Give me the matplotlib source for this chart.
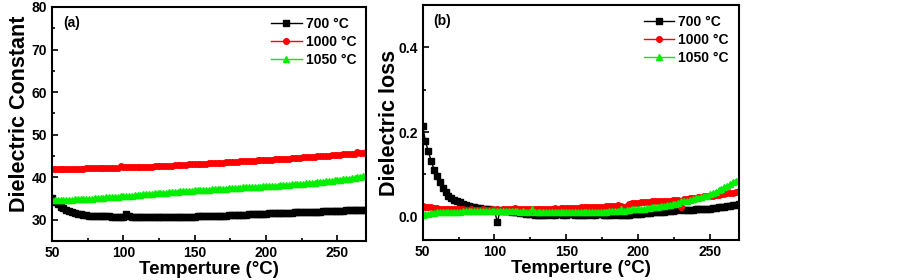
import matplotlib
matplotlib.use("Agg")
import matplotlib.pyplot as plt
import numpy as np
from matplotlib.ticker import MultipleLocator

plt.rcParams['font.family'] = ['Liberation Sans', 'DejaVu Sans']
plt.rcParams['font.weight'] = 'bold'

# temperature sweep, 50..270 C in 2 C steps
temps = np.arange(50, 271, 2)
labels = ['700 \u00b0C', '1000 \u00b0C', '1050 \u00b0C']
colors = ['black', '#ff0000', '#00ee00']
markers = ['s', 'o', '^']

# (a) dielectric constant
eps_700 = [35.2, 34.2, 33.6, 33.1, 32.7, 32.3, 32.0, 31.8, 31.6, 31.4,
           31.3, 31.2, 31.1, 31.0, 31.0, 30.9, 30.9, 30.85, 30.8, 30.8,
           30.8, 30.75, 30.75, 30.7, 30.7, 30.7, 31.3, 30.8, 30.75, 30.7,
           30.7, 30.75, 30.7, 30.7, 30.65, 30.7, 30.65, 30.7, 30.7, 30.65,
           30.7, 30.7, 30.7, 30.7, 30.75, 30.7, 30.75, 30.75, 30.75, 30.75,
           30.75, 30.8, 30.8, 30.85, 30.85, 30.85, 30.9, 30.9, 30.95, 30.95,
           31.0, 31.0, 31.05, 31.05, 31.1, 31.1, 31.15, 31.2, 31.2, 31.25,
           31.3, 31.3, 31.35, 31.4, 31.4, 31.45, 31.5, 31.5, 31.55, 31.6,
           31.6, 31.65, 31.65, 31.7, 31.7, 31.75, 31.75, 31.8, 31.8, 31.85,
           31.85, 31.9, 31.9, 31.95, 31.95, 32.0, 32.0, 32.05, 32.05, 32.1,
           32.1, 32.15, 32.15, 32.2, 32.2, 32.2, 32.25, 32.25, 32.3, 32.3,
           32.3]
eps_1000 = [42.0, 42.0, 41.95, 42.0, 42.0, 42.0, 42.0, 42.0, 42.05, 42.05,
            42.05, 42.05, 42.1, 42.1, 42.1, 42.1, 42.15, 42.15, 42.15, 42.2,
            42.2, 42.2, 42.25, 42.25, 42.55, 42.3, 42.3, 42.3, 42.35, 42.35,
            42.4, 42.4, 42.45, 42.45, 42.5, 42.5, 42.55, 42.6, 42.6, 42.65,
            42.7, 42.7, 42.75, 42.8, 42.8, 42.85, 42.9, 42.95, 43.0, 43.0,
            43.05, 43.1, 43.15, 43.2, 43.2, 43.25, 43.3, 43.35, 43.4, 43.4,
            43.45, 43.5, 43.55, 43.6, 43.6, 43.65, 43.7, 43.75, 43.8, 43.8,
            43.85, 43.9, 43.95, 44.0, 44.1, 44.1, 44.1, 44.15, 44.2, 44.25,
            44.3, 44.35, 44.35, 44.4, 44.45, 44.5, 44.55, 44.6, 44.65, 44.7,
            44.75, 44.8, 44.85, 44.9, 44.95, 45.0, 45.05, 45.1, 45.15, 45.2,
            45.25, 45.3, 45.35, 45.4, 45.45, 45.5, 45.55, 45.9, 45.7, 45.8,
            45.85]
eps_1050 = [34.6, 34.6, 34.65, 34.65, 34.7, 34.7, 34.75, 34.75, 34.8, 34.8,
            34.85, 34.9, 34.9, 34.95, 35.0, 35.05, 35.1, 35.15, 35.2, 35.25,
            35.3, 35.35, 35.4, 35.45, 35.5, 35.55, 35.6, 35.65, 35.7, 35.75,
            35.8, 35.9, 35.95, 36.0, 36.05, 36.1, 36.2, 36.25, 36.3, 36.35,
            36.4, 36.45, 36.5, 36.55, 36.6, 36.65, 36.7, 36.75, 36.8, 36.85,
            36.9, 36.95, 37.0, 37.05, 37.1, 37.1, 37.15, 37.2, 37.25, 37.3,
            37.3, 37.35, 37.4, 37.45, 37.45, 37.5, 37.55, 37.6, 37.6, 37.65,
            37.7, 37.75, 37.75, 37.8, 37.85, 37.9, 37.95, 38.0, 38.0, 38.05,
            38.1, 38.15, 38.2, 38.25, 38.3, 38.35, 38.4, 38.45, 38.5, 38.55,
            38.6, 38.7, 38.75, 38.8, 38.9, 38.95, 39.0, 39.1, 39.15, 39.25,
            39.3, 39.4, 39.5, 39.6, 39.7, 39.8, 39.9, 40.0, 40.1, 40.25,
            40.4]

# (b) dielectric loss
loss_700 = [0.215, 0.178, 0.154, 0.131, 0.111, 0.097, 0.081, 0.068, 0.058, 0.050,
            0.044, 0.040, 0.037, 0.034, 0.031, 0.028, 0.026, 0.024, 0.022, 0.021,
            0.020, 0.019, 0.018, 0.017, 0.0165, 0.016, -0.013, 0.015, 0.014, 0.013,
            0.013, 0.012, 0.011, 0.010, 0.009, 0.008, 0.007, 0.006, 0.006, 0.005,
            0.004, 0.004, 0.005, 0.005, 0.006, 0.005, 0.005, 0.006, 0.006, 0.005,
            0.005, 0.006, 0.006, 0.005, 0.005, 0.004, 0.005, 0.005, 0.006, 0.005,
            0.005, 0.006, 0.006, 0.005, 0.004, 0.005, 0.005, 0.006, 0.005, 0.004,
            0.004, 0.005, 0.005, 0.006, 0.006, 0.007, 0.007, 0.008, 0.008, 0.009,
            0.010, 0.010, 0.011, 0.012, 0.012, 0.013, 0.014, 0.014, 0.015, 0.016,
            0.017, 0.016, 0.015, 0.015, 0.016, 0.017, 0.017, 0.018, 0.018, 0.019,
            0.019, 0.020, 0.021, 0.022, 0.023, 0.024, 0.025, 0.026, 0.027, 0.028,
            0.029]
loss_1000 = [0.026, 0.024, 0.023, 0.022, 0.021, 0.020, 0.019, 0.019, 0.018, 0.018,
             0.018, 0.017, 0.017, 0.017, 0.017, 0.016, 0.016, 0.017, 0.016, 0.016,
             0.016, 0.017, 0.016, 0.016, 0.017, 0.016, 0.017, 0.016, 0.017, 0.017,
             0.018, 0.017, 0.021, 0.017, 0.017, 0.018, 0.017, 0.018, 0.018, 0.018,
             0.018, 0.019, 0.018, 0.019, 0.019, 0.019, 0.020, 0.019, 0.020, 0.020,
             0.020, 0.020, 0.021, 0.021, 0.021, 0.022, 0.022, 0.022, 0.023, 0.023,
             0.023, 0.024, 0.024, 0.024, 0.025, 0.025, 0.025, 0.026, 0.027, 0.026,
             0.024, 0.025, 0.030, 0.032, 0.033, 0.033, 0.034, 0.034, 0.035, 0.035,
             0.036, 0.036, 0.037, 0.037, 0.037, 0.038, 0.038, 0.039, 0.039, 0.040,
             0.022, 0.041, 0.042, 0.043, 0.044, 0.045, 0.046, 0.047, 0.048, 0.048,
             0.049, 0.050, 0.051, 0.052, 0.053, 0.054, 0.055, 0.056, 0.057, 0.059,
             0.060]
loss_1050 = [0.004, 0.006, 0.007, 0.008, 0.009, 0.010, 0.010, 0.011, 0.011, 0.012,
             0.012, 0.012, 0.012, 0.012, 0.013, 0.013, 0.013, 0.013, 0.013, 0.013,
             0.013, 0.013, 0.013, 0.014, 0.013, 0.014, 0.014, 0.014, 0.014, 0.013,
             0.013, 0.014, 0.013, 0.013, 0.012, 0.013, 0.012, 0.012, 0.018, 0.012,
             0.012, 0.011, 0.011, 0.011, 0.011, 0.011, 0.010, 0.010, 0.010, 0.010,
             0.010, 0.010, 0.010, 0.010, 0.010, 0.010, 0.010, 0.011, 0.011, 0.011,
             0.011, 0.011, 0.012, 0.012, 0.012, 0.013, 0.013, 0.013, 0.014, 0.018,
             0.014, 0.015, 0.016, 0.017, 0.017, 0.018, 0.019, 0.019, 0.020, 0.021,
             0.022, 0.023, 0.024, 0.025, 0.026, 0.027, 0.028, 0.030, 0.031, 0.032,
             0.036, 0.037, 0.038, 0.039, 0.041, 0.043, 0.044, 0.046, 0.048, 0.050,
             0.053, 0.056, 0.059, 0.062, 0.065, 0.069, 0.073, 0.077, 0.081, 0.084,
             0.087]


def style_axes(ax):
    for sp in ax.spines.values():
        sp.set_linewidth(1.5)
    ax.tick_params(which='both', direction='in', top=False, right=False,
                   labelsize=10, width=1.2)
    ax.tick_params(which='major', length=4)
    ax.tick_params(which='minor', length=2)
    ax.xaxis.set_major_locator(MultipleLocator(50))
    ax.xaxis.set_minor_locator(MultipleLocator(25))
    ax.set_xlim(50, 270)
    ax.set_xlabel('Temperture (\u00b0C)', fontsize=13.5, fontweight='bold', labelpad=1)


fig = plt.figure(figsize=(9.03, 2.8), dpi=100)
ax1 = fig.add_axes([0.0576, 0.139, 0.3477, 0.836])
ax2 = fig.add_axes([0.468, 0.143, 0.35, 0.839])

for ys, c, m, lab in zip([eps_700, eps_1000, eps_1050], colors, markers, labels):
    ax1.plot(temps, ys, color=c, marker=m, markersize=4, lw=1.0, label=lab)
for ys, c, m, lab in zip([loss_700, loss_1000, loss_1050], colors, markers, labels):
    ax2.plot(temps, ys, color=c, marker=m, markersize=4, lw=1.0, label=lab)

style_axes(ax1)
ax1.set_ylim(25, 80)
ax1.yaxis.set_major_locator(MultipleLocator(10))
ax1.yaxis.set_minor_locator(MultipleLocator(5))
ax1.set_ylabel('Dielectric Constant', fontsize=15.5, fontweight='bold')
ax1.yaxis.set_label_coords(-0.07, 0.543)
ax1.text(0.035, 0.93, '(a)', transform=ax1.transAxes, fontsize=10, fontweight='bold', va='center')

style_axes(ax2)
ax2.set_ylim(-0.055, 0.5)
ax2.yaxis.set_major_locator(MultipleLocator(0.2))
ax2.yaxis.set_minor_locator(MultipleLocator(0.1))
ax2.set_ylabel('Dielectric loss', fontsize=15.5, fontweight='bold', labelpad=-1)
ax2.text(0.035, 0.93, '(b)', transform=ax2.transAxes, fontsize=10, fontweight='bold', va='center')

for ax in (ax1, ax2):
    ax.legend(loc='upper right', frameon=False, handlelength=2.2,
              handletextpad=0.3, labelspacing=0.3, borderaxespad=0.3,
              prop={'weight': 'bold', 'size': 10})
    for lbl in ax.get_xticklabels() + ax.get_yticklabels():
        lbl.set_fontweight('bold')

fig.savefig('out.png', dpi=100)
